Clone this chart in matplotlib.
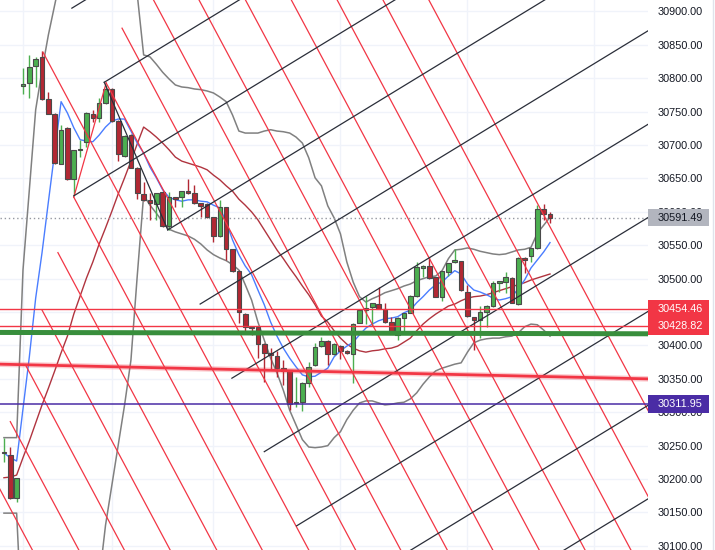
import numpy as np
import matplotlib.pyplot as plt
from matplotlib.patches import Rectangle
from matplotlib.lines import Line2D
from matplotlib.ticker import FuncFormatter

plt.rcParams['font.family'] = ['Liberation Sans', 'DejaVu Sans']

# K线数据, 下标 -3..-1 是跳空前的三根
idx = np.arange(-3, 84)
opens = [30239, 30236, 30172,
         30789, 30793, 30818, 30832, 30769, 30747, 30672, 30726, 30649, 30692,
         30705, 30747, 30741, 30763, 30784, 30736, 30684, 30715, 30666, 30627,
         30618, 30612, 30630, 30579, 30622, 30622, 30631, 30628, 30613, 30612,
         30592, 30564, 30607, 30544, 30512, 30447, 30428, 30428, 30402, 30389,
         30384, 30366, 30363, 30314, 30315, 30344, 30371, 30399, 30407, 30387,
         30399, 30392, 30387, 30434, 30453, 30458, 30462, 30455, 30435, 30416,
         30441, 30449, 30474, 30516, 30519, 30503, 30473, 30510, 30525, 30527,
         30480, 30443, 30438, 30450, 30459, 30494, 30495, 30501, 30462, 30531,
         30534, 30546, 30604, 30597]
highs = [30261, 30248, 30202,
         30815, 30835, 30832, 30841, 30780, 30748, 30730, 30727, 30693, 30708,
         30750, 30753, 30771, 30790, 30786, 30737, 30715, 30716, 30667, 30645,
         30628, 30629, 30631, 30630, 30623, 30632, 30649, 30640, 30614, 30613,
         30593, 30618, 30608, 30545, 30513, 30448, 30429, 30429, 30403, 30396,
         30392, 30378, 30364, 30353, 30345, 30375, 30404, 30413, 30408, 30403,
         30400, 30393, 30433, 30454, 30474, 30464, 30488, 30464, 30443, 30442,
         30449, 30475, 30525, 30520, 30533, 30503, 30512, 30524, 30545, 30527,
         30491, 30443, 30459, 30460, 30497, 30497, 30510, 30502, 30532, 30532,
         30546, 30610, 30612, 30600]
lows = [30226, 30170, 30166,
        30776, 30770, 30787, 30767, 30746, 30672, 30671, 30648, 30625, 30682,
        30697, 30735, 30735, 30762, 30735, 30676, 30682, 30665, 30619, 30617,
        30588, 30588, 30577, 30573, 30607, 30607, 30627, 30612, 30592, 30591,
        30555, 30563, 30528, 30510, 30434, 30419, 30416, 30381, 30345, 30363,
        30353, 30341, 30303, 30308, 30302, 30338, 30370, 30398, 30371, 30386,
        30380, 30387, 30344, 30433, 30432, 30429, 30454, 30434, 30417, 30408,
        30420, 30448, 30473, 30503, 30500, 30472, 30467, 30504, 30524, 30482,
        30443, 30393, 30411, 30428, 30458, 30480, 30479, 30463, 30461, 30509,
        30525, 30545, 30588, 30583]
closes = [30240, 30172, 30202,
          30791, 30817, 30829, 30769, 30747, 30673, 30723, 30649, 30692, 30694,
          30748, 30741, 30763, 30784, 30736, 30687, 30714, 30666, 30628, 30618,
          30613, 30628, 30579, 30622, 30619, 30631, 30628, 30613, 30609, 30592,
          30564, 30607, 30544, 30512, 30450, 30428, 30426, 30402, 30389, 30386,
          30366, 30362, 30312, 30315, 30344, 30368, 30398, 30407, 30387, 30402,
          30392, 30389, 30432, 30453, 30456, 30464, 30455, 30435, 30417, 30441,
          30449, 30474, 30518, 30519, 30501, 30473, 30512, 30524, 30528, 30483,
          30444, 30438, 30450, 30459, 30494, 30497, 30503, 30464, 30531, 30528,
          30546, 30604, 30597, 30591.49]

# 布林带
bb_upper = [30262, 30262, 30262,
            30513, 30633, 30753, 30812, 30865, 30910, 30955, 30992, 31022, 31044,
            31059, 31067, 31067, 31059, 31044, 31022, 31000, 30970, 30925, 30835,
            30832, 30821, 30809, 30799, 30790, 30787, 30786, 30784, 30783, 30781,
            30778, 30772, 30765, 30745, 30721, 30718, 30718, 30718, 30721, 30723,
            30721, 30720, 30718, 30712, 30703, 30681, 30651, 30639, 30609, 30591,
            30567, 30525, 30495, 30473, 30465, 30470, 30474, 30479, 30482, 30485,
            30489, 30492, 30497, 30500, 30503, 30504, 30512, 30530, 30543, 30544,
            30546, 30544, 30541, 30539, 30537, 30536, 30537, 30540, 30543, 30544,
            30547, 30568, 30580, 30592]
bb_mid = [30202, 30203, 30206,
          30232, 30257, 30284, 30311, 30336, 30362, 30389, 30414, 30447, 30474,
          30501, 30525, 30552, 30576, 30601, 30627, 30651, 30676, 30702, 30727,
          30720, 30712, 30703, 30693, 30682, 30676, 30673, 30670, 30667, 30663,
          30655, 30648, 30639, 30631, 30619, 30610, 30600, 30588, 30573, 30558,
          30543, 30530, 30516, 30503, 30489, 30476, 30461, 30444, 30435, 30422,
          30411, 30402, 30396, 30392, 30390, 30392, 30393, 30395, 30396, 30399,
          30405, 30411, 30422, 30432, 30440, 30447, 30453, 30459, 30462, 30467,
          30471, 30473, 30474, 30476, 30479, 30482, 30485, 30488, 30491, 30494,
          30498, 30501, 30504, 30507]
bb_lower = [30149, 30149, 30149,
            29950, 29881, 29815, 29809, 29808, 29814, 29823, 29836, 29872, 29904,
            29943, 29983, 30049, 30131, 30191, 30251, 30311, 30378, 30505, 30625,
            30610, 30598, 30585, 30574, 30570, 30567, 30564, 30559, 30552, 30543,
            30536, 30531, 30527, 30521, 30513, 30491, 30468, 30435, 30408, 30381,
            30359, 30333, 30303, 30281, 30259, 30248, 30247, 30248, 30250, 30262,
            30271, 30289, 30303, 30314, 30317, 30317, 30314, 30311, 30312, 30314,
            30315, 30320, 30329, 30342, 30353, 30362, 30366, 30369, 30372, 30374,
            30390, 30404, 30408, 30410, 30411, 30411, 30413, 30414, 30419, 30428,
            30432, 30431, 30423, 30414]
# 蓝色均线
ma_fast = [30239, 30232, 30227,
           30305, 30383, 30471, 30539, 30615, 30690, 30765, 30748, 30726, 30708,
           30706, 30705, 30715, 30727, 30736, 30739, 30739, 30721, 30703, 30688,
           30667, 30651, 30633, 30622, 30618, 30616, 30618, 30618, 30616, 30615,
           30610, 30606, 30585, 30558, 30536, 30519, 30506, 30483, 30461, 30435,
           30414, 30396, 30381, 30368, 30356, 30353, 30354, 30360, 30366, 30383,
           30392, 30399, 30405, 30416, 30426, 30432, 30437, 30440, 30441, 30443,
           30449, 30453, 30464, 30473, 30483, 30491, 30495, 30504, 30512, 30507,
           30492, 30483, 30480, 30476, 30471, 30468, 30470, 30473, 30485, 30498,
           30516, 30528, 30540, 30554]

# 画线工具: 红色平行线(起点) 和 黑色平行线(起点)
red_start_x = [-4.6, -2.0, 0.5, 3.0, 5.5, 8.0, 3.15, 13.1, 15.6, 18.1, 20.6, 23.2, 25.7, 28.2, 30.7, 33.2]
red_start_y = [30202, 30286, 30369, 30453, 30539, 30622, 30839, 30793, 30875, 30961, 31044, 31128, 31212, 31296, 31380, 31464]
red_slope = -17.8
red_base_x = [8.0, 13.1]
red_base_y = [30622, 30793]
black_start_x = [7.7, 12.8, 8.0, 22.8, 27.9, 32.9, 38.0, 43.1, 48.2, 53.2]
black_start_y = [30905, 30794, 30624, 30573, 30462, 30351, 30241, 30130, 30019, 29908]
black_slope = 5.8
black_base_x = [12.8, 22.8]
black_base_y = [30794, 30573]

# 水平线
red_levels = [30454.46, 30428.82]
green_level = [30419.5, 30417.5]
red_trend = [30372, 30350]
purple_level = 30311.95
last_price = 30591.49
label_prices = [30591.49, 30454.46, 30428.82, 30311.95]
label_colors = ['#b2b5be', '#f23645', '#f23645', '#4a2ca5']
label_text_colors = ['#131722', 'white', 'white', 'white']
vgrid_idx = [0, 14, 30, 50, 70, 90]

GREEN = '#4caf50'
RED = '#b22833'
x_left, x_right = -3.62, 98.43
y_bottom, y_top = 30093.8, 30917.2

fig = plt.figure(figsize=(7.15, 5.5), dpi=100)
ax = fig.add_axes([0, 0, 648 / 715, 1])
ax.set_xlim(x_left, x_right)
ax.set_ylim(y_bottom, y_top)

# 网格
for v in vgrid_idx:
    ax.axvline(v, color='#f0f3fa', lw=1, zorder=0)
for p in np.arange(30100, 30901, 50):
    ax.axhline(p, color='#f0f3fa', lw=1, zorder=0)

# 指标
ax.plot(idx, bb_upper, color='#808080', lw=1.1, zorder=2)
ax.plot(idx, bb_lower, color='#808080', lw=1.1, zorder=2)
ax.plot(idx, bb_mid, color='#b0343f', lw=1.0, zorder=2)
ax.plot(idx, ma_fast, color='#4a7dff', lw=1.0, zorder=2)

# K线
for i, o, h, l, c in zip(idx, opens, highs, lows, closes):
    col = GREEN if c >= o else RED
    ax.vlines(i, l, h, color=col, lw=1, zorder=4)
    ax.add_patch(Rectangle((i - 0.36, min(o, c)), 0.72, max(abs(c - o), 1.0),
                           fc=col, ec='#4a4a4a', lw=0.8, zorder=5))

# 平行线 (一直延伸到图边)
for sx, sy in zip(red_start_x, red_start_y):
    ax.plot([sx, sx + 150], [sy, sy + red_slope * 150], color='#f23645', lw=0.9, zorder=6)
ax.plot(red_base_x, red_base_y, color='#f23645', lw=0.9, zorder=6)
for sx, sy in zip(black_start_x, black_start_y):
    ax.plot([sx, sx + 150], [sy, sy + black_slope * 150], color='#2a2e39', lw=0.9, zorder=6)
ax.plot(black_base_x, black_base_y, color='#2a2e39', lw=0.9, zorder=6)

# 水平线
for p in red_levels:
    ax.axhline(p, color='#f23645', lw=1, zorder=7)
ax.plot([x_left, x_right], green_level, color='#388e3c', lw=3.6, zorder=7, solid_capstyle='butt')
ax.plot([x_left, x_right], red_trend, color='#f23645', lw=4, alpha=0.25, zorder=7)
ax.plot([x_left, x_right], red_trend, color='#f23645', lw=2, zorder=7)
ax.axhline(purple_level, color='#4a2ca5', lw=1.1, zorder=7)
ax.axhline(last_price, color='#9598a1', lw=1, ls=(0, (1, 2)), zorder=3)

# 坐标轴 (30450 的刻度被红色标签完全盖住, 不画)
for s in ax.spines.values():
    s.set_visible(False)
ax.set_xticks([])
ax.yaxis.tick_right()
ax.set_yticks([t for t in np.arange(30100, 30901, 50) if t != 30450])
ax.yaxis.set_major_formatter(FuncFormatter(lambda v, pos: '%.2f' % v))
ax.tick_params(axis='y', length=0, pad=7.2, labelsize=7.8, labelcolor='#131722')

# 价格标签
tr = ax.get_yaxis_transform()
for p, fc, tc in zip(label_prices, label_colors, label_text_colors):
    ax.add_patch(Rectangle((1.0, p - 13.2), 61 / 648, 26.4, transform=tr, fc=fc, ec='none',
                           clip_on=False, zorder=20))
    ax.text(1 + 10 / 648, p, '%.2f' % p, transform=tr, color=tc, fontsize=7.8,
            va='center', ha='left', zorder=21, clip_on=False)

fig.add_artist(Line2D([713 / 715, 713 / 715], [0, 1], color='#e0e3eb', lw=1))

fig.savefig('out.png', dpi=100)
